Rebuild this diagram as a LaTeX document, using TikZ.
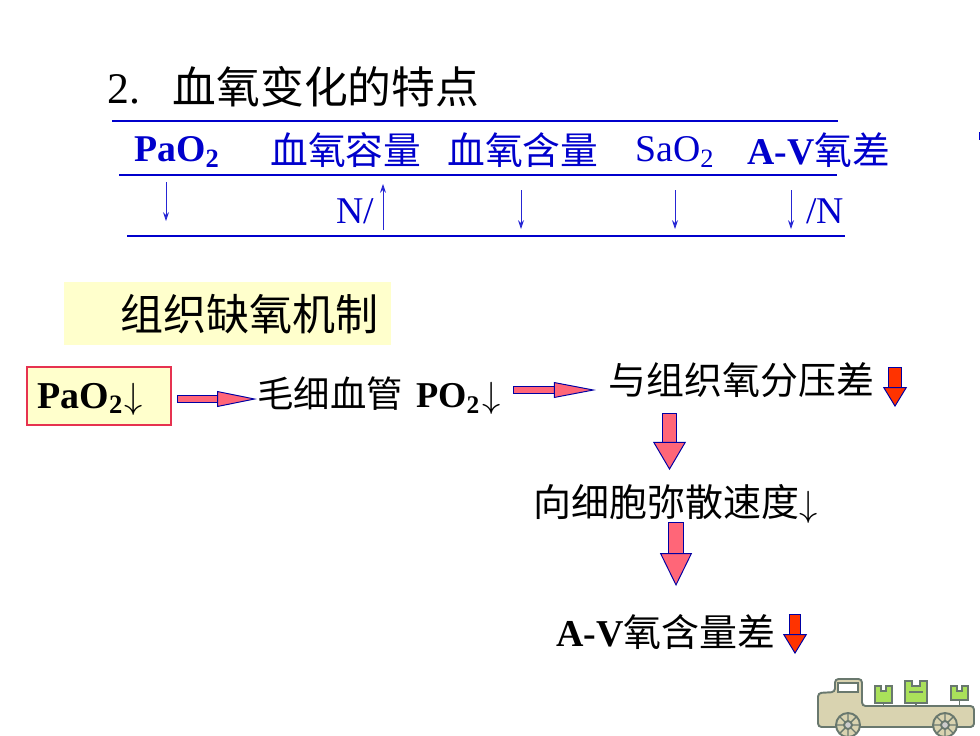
\documentclass[tikz,border=0pt]{standalone}
\usepackage{fontspec}
\setmainfont{Liberation Serif}
\newfontfamily\cjk{Noto Sans CJK SC}
\usetikzlibrary{arrows.meta}
\definecolor{rulecol}{RGB}{0,0,204}
\definecolor{boxcol}{RGB}{255,255,204}
\definecolor{edgecol}{RGB}{230,50,80}
\definecolor{pinkcol}{RGB}{255,102,120}
\definecolor{redcol}{RGB}{255,51,0}
\definecolor{truckcol}{RGB}{217,211,176}
\definecolor{truckedge}{RGB}{105,120,110}
\definecolor{cratecol}{RGB}{170,225,90}
\tikzset{
	txt/.style={inner sep=0pt,anchor=west,text=black},
	bigtxt/.style={txt,font=\fontsize{24.9}{28}\selectfont},
	headtxt/.style={txt,text=rulecol,font=\fontsize{21.5}{26}\selectfont},
	flowtxt/.style={txt,font=\fontsize{21.6}{26}\selectfont},
	vesstxt/.style={txt,font=\fontsize{20.7}{26}\selectfont},
	rulel/.style={rulecol,line width=1.1pt},
	thinarr/.style={rulecol!85!white,line width=0.5pt,-{Stealth[length=5pt,width=3.4pt]}},
	fatarrow/.style n args={4}{draw=rulecol!80!black,line width=0.55pt,double=#1,double distance=#2,
		{Bar[width=#2+1.1pt,line width=0.55pt,sep=0pt]}-{Triangle[length=#4,width=#3,fill=#1,line width=0.55pt]}},
	crate/.style={truckedge,fill=cratecol,line width=1pt},
	wheel/.style={truckedge,fill=truckcol,line width=1.1pt},
	spoke/.style={truckedge,line width=0.8pt},
}
\begin{document}
\begin{tikzpicture}[x=0.02cm,y=-0.02cm]
		\useasboundingbox (0,0) rectangle (980,735);
		\node[bigtxt] (title) at (107,87) {2.\ \ \ {\cjk 血氧变化的特点}};
		\draw[rulel] (112,121) -- (838,121);
		\draw[rulel] (119,175) -- (837,175);
		\draw[rulel] (127,236) -- (845,236);
		\node[headtxt] (pao) at (134,152) {\bfseries PaO\textsubscript{2}};
		\node[headtxt] (cap) at (270,150) {\cjk 血氧容量};
		\node[headtxt] (con) at (447,150) {\cjk 血氧含量};
		\node[headtxt] (sao) at (635,152) {SaO\textsubscript{2}};
		\node[headtxt] (avd) at (747,150) {\bfseries A-V{\cjk\mdseries 氧差}};
		\node[headtxt] (nup) at (336,211) {N/};
		\node[headtxt] (ndn) at (806,211) {/N};
		\coordinate (a1s) at (166,182);
		\coordinate (a1e) at (166,221);
		\coordinate (a2s) at (383,230);
		\coordinate (a2e) at (383,184);
		\coordinate (a3s) at (521,190);
		\coordinate (a3e) at (521,229);
		\coordinate (a4s) at (675,190);
		\coordinate (a4e) at (675,229);
		\coordinate (a5s) at (791,190);
		\coordinate (a5e) at (791,229);
		\draw[thinarr] (a1s) -- (a1e);
		\draw[thinarr] (a2s) -- (a2e);
		\draw[thinarr] (a3s) -- (a3e);
		\draw[thinarr] (a4s) -- (a4e);
		\draw[thinarr] (a5s) -- (a5e);
		\draw[rulecol,line width=0.5pt] (979,132) -- (979,140);
		\fill[boxcol] (64,282) rectangle (391,345);
		\node[bigtxt,font=\fontsize{24.5}{28}\selectfont] (mech) at (120,314) {\cjk 组织缺氧机制};
		\draw[edgecol,fill=boxcol,line width=0.7pt] (27,367) rectangle (171,425);
		\node[flowtxt] (low) at (37,399) {\bfseries PaO\textsubscript{2}\kern0.5pt$\downarrow$};
		\node[vesstxt] (vess) at (257,396) {{\cjk 毛细血管}\kern7.5pt\bfseries PO\textsubscript{2}\kern1.5pt$\downarrow$};
		\node[flowtxt] (grad) at (608,380) {\cjk 与组织氧分压差};
		\node[flowtxt] (rate) at (533,504) {{\cjk 向细胞弥散速度}$\downarrow$};
		\node[flowtxt] (avc) at (556,632) {\bfseries A-V{\cjk\mdseries 氧含量差}};
		\coordinate (f1s) at (177,399);
		\coordinate (f1e) at (257,399);
		\coordinate (f2s) at (513,390);
		\coordinate (f2e) at (596,390);
		\coordinate (f3s) at (669.5,413);
		\coordinate (f3e) at (669.5,470);
		\coordinate (f4s) at (676,522);
		\coordinate (f4e) at (676,586);
		\coordinate (f5s) at (895,367);
		\coordinate (f5e) at (895,407);
		\coordinate (f6s) at (795,614);
		\coordinate (f6e) at (795,654);
		\draw[fatarrow={pinkcol}{3.4pt}{9pt}{22.7pt}] (f1s) -- (f1e);
		\draw[fatarrow={pinkcol}{3.4pt}{9pt}{24pt}] (f2s) -- (f2e);
		\draw[fatarrow={pinkcol}{7.4pt}{18.7pt}{16pt}] (f3s) -- (f3e);
		\draw[fatarrow={pinkcol}{7.9pt}{18.2pt}{18.7pt}] (f4s) -- (f4e);
		\draw[fatarrow={redcol}{6.4pt}{13.6pt}{11.3pt}] (f5s) -- (f5e);
		\draw[fatarrow={redcol}{5.8pt}{13.6pt}{11.3pt}] (f6s) -- (f6e);
		\begin{scope}
			\clip (0,0) rectangle (980,735);
			\draw[truckedge,fill=truckcol,line width=1.1pt,rounded corners=2pt] (818,727) -- (818,693) -- (835,692) -- (835,679) -- (862,679) -- (862,706) -- (974,706) -- (974,727) -- cycle;
			\draw[truckedge,fill=white,line width=0.7pt] (838,683) rectangle (858,692);
			\draw[wheel] (848,725) circle (12);
			\draw[wheel] (945,725) circle (12);
			\draw[spoke] (836,725) -- (860,725) (848,713) -- (848,737) (840,717) -- (856,733) (840,733) -- (856,717);
			\draw[spoke] (933,725) -- (957,725) (945,713) -- (945,737) (937,717) -- (953,733) (937,733) -- (953,717);
			\draw[wheel,fill=gray!40] (848,725) circle (4);
			\draw[wheel,fill=gray!40] (945,725) circle (4);
			\draw[spoke] (883.5,703) -- (883.5,706) (916,703) -- (916,706) (959.5,700) -- (959.5,706);
			\draw[crate] (875,686) -- (881,686) -- (881,691) -- (886,691) -- (886,686) -- (892,686) -- (892,703) -- (875,703) -- cycle;
			\draw[crate] (905,681) -- (912,681) -- (912,686) -- (920,686) -- (920,681) -- (927,681) -- (927,703) -- (905,703) -- cycle;
			\draw[crate] (951,686) -- (957,686) -- (957,691) -- (962,691) -- (962,686) -- (968,686) -- (968,700) -- (951,700) -- cycle;
			\draw[spoke,line width=1.2pt] (909,692) -- (923,692);
		\end{scope}
	\end{tikzpicture}
\end{document}
